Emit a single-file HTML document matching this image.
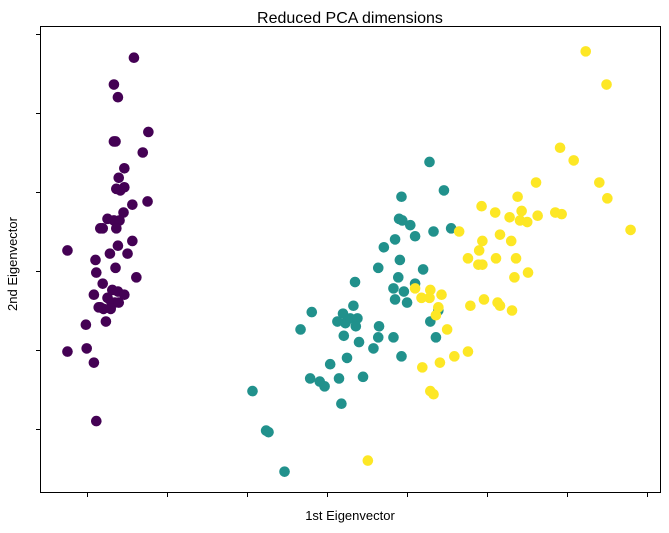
<!DOCTYPE html>
<html><head><meta charset="utf-8"><style>
html,body{margin:0;padding:0;background:#fff;}
svg{display:block;font-family:"Liberation Sans","DejaVu Sans",sans-serif;}
</style></head><body>
<svg id="chart" width="669" height="533" viewBox="0 0 669 533">
<rect x="0" y="0" width="669" height="533" fill="#fff"/>
<text x="350" y="23" text-anchor="middle" font-size="16" fill="#000">Reduced PCA dimensions</text>
<text x="350" y="520" text-anchor="middle" font-size="13" fill="#000">1st Eigenvector</text>
<text x="17" y="264" text-anchor="middle" font-size="13" fill="#000" transform="rotate(-90 17 264)">2nd Eigenvector</text>
<g id="ticks"></g>
<g id="points"></g>
<rect x="40.5" y="26.5" width="620" height="466" fill="none" stroke="#000" stroke-width="1"/>
</svg>
<script>
const xTicks = [-3,-2,-1,0,1,2,3,4];
const yTicks = [-1.0,-0.5,0,0.5,1.0,1.5];
const setosaX = [-2.41,-2.66,-2.61,-2.23,-2.66,-2.64,-2.30,-2.53,-2.60,-2.58,-2.63,-2.53,-2.43,-2.24,-2.54,-2.74,-2.66,-2.59,-2.80,-2.83,-2.63,-3.24,-2.43,-2.61,-2.71,-2.89,-2.49,-2.64,-2.88,-2.38,-2.80,-2.68,-2.61,-2.53,-2.91,-2.74,-2.69,-2.65,-2.60,-2.83,-2.85,-2.79,-2.70,-2.76,-3.01,-3.24,-3.00,-2.91,-2.88];
const setosaY = [1.35,1.18,1.10,0.88,0.82,0.82,0.75,0.65,0.59,0.51,0.52,0.53,0.42,0.44,0.37,0.33,0.32,0.32,0.27,0.27,0.27,0.13,0.19,0.16,0.11,0.07,0.11,0.02,-0.01,-0.04,-0.08,-0.12,-0.13,-0.15,-0.15,-0.17,-0.20,-0.20,-0.20,-0.23,-0.23,-0.24,-0.24,-0.32,-0.34,-0.51,-0.49,-0.58,-0.95];
const versicolorX = [1.28,0.93,1.46,0.90,0.94,1.04,1.55,1.33,1.10,0.85,0.71,0.91,0.64,1.20,0.89,0.35,1.10,0.83,0.96,0.85,0.33,1.00,-0.19,0.20,1.39,0.23,0.29,0.38,0.13,0.36,-0.33,0.65,1.29,0.21,0.83,0.64,1.36,0.40,0.58,0.25,0.93,0.04,-0.21,-0.09,0.15,0.45,-0.03,-0.93,0.18,-0.76,-0.73,-0.53];
const versicolorY = [0.69,0.47,0.51,0.33,0.32,0.29,0.27,0.25,0.22,0.20,0.15,0.07,0.02,0.01,-0.04,-0.07,-0.08,-0.11,-0.13,-0.18,-0.22,-0.20,-0.26,-0.27,-0.25,-0.33,-0.30,-0.30,-0.32,-0.35,-0.37,-0.35,-0.32,-0.41,-0.42,-0.42,-0.42,-0.45,-0.49,-0.55,-0.54,-0.59,-0.68,-0.70,-0.68,-0.67,-0.73,-0.76,-0.84,-1.01,-1.02,-1.27];
const virginicaX = [3.23,3.49,2.91,3.08,2.61,3.40,3.50,2.38,1.93,2.10,2.28,2.43,2.41,2.63,2.85,2.93,1.65,2.50,3.79,1.94,2.30,2.16,1.90,1.76,2.11,1.89,1.94,2.36,2.51,2.34,1.10,1.29,1.43,1.28,1.18,1.96,2.13,2.16,1.79,2.31,1.39,1.36,1.50,1.76,1.59,1.19,1.41,1.29,1.33,0.51];
const virginicaY = [1.39,1.18,0.78,0.70,0.56,0.56,0.46,0.47,0.41,0.37,0.34,0.38,0.32,0.35,0.37,0.36,0.25,0.31,0.26,0.19,0.19,0.23,0.13,0.08,0.08,0.04,0.04,0.08,-0.01,-0.04,-0.11,-0.12,-0.15,-0.17,-0.17,-0.18,-0.20,-0.22,-0.22,-0.25,-0.23,-0.28,-0.37,-0.51,-0.54,-0.61,-0.58,-0.76,-0.78,-1.20];

const NS = "http://www.w3.org/2000/svg";
function xScale(v){ return 327 + v*80.1; }
function yScale(v){ return 271 - v*158; }

const tg = document.getElementById('ticks');
xTicks.forEach(function(t){
  const l = document.createElementNS(NS,'line');
  const x = Math.round(xScale(t))+0.5;
  l.setAttribute('x1',x); l.setAttribute('x2',x);
  l.setAttribute('y1',493); l.setAttribute('y2',497);
  l.setAttribute('stroke','#000');
  
  
  tg.appendChild(l);
});
yTicks.forEach(function(t){
  const l = document.createElementNS(NS,'line');
  const y = Math.round(yScale(t))+0.5;
  l.setAttribute('x1',36); l.setAttribute('x2',40);
  l.setAttribute('y1',y); l.setAttribute('y2',y);
  l.setAttribute('stroke','#000');
  
  
  tg.appendChild(l);
});

const pg = document.getElementById('points');
function drawSeries(xs, ys, color, name){
  for(let i=0;i<xs.length;i++){
    const c = document.createElementNS(NS,'circle');
    c.setAttribute('cx', xScale(xs[i]));
    c.setAttribute('cy', yScale(ys[i]));
    c.setAttribute('r', 5.3);
    c.setAttribute('fill', color);
    
    
    pg.appendChild(c);
  }
}
drawSeries(setosaX, setosaY, '#440154', 'point-class-0');
drawSeries(versicolorX, versicolorY, '#21918c', 'point-class-1');
drawSeries(virginicaX, virginicaY, '#fde725', 'point-class-2');
</script>
</body></html>
